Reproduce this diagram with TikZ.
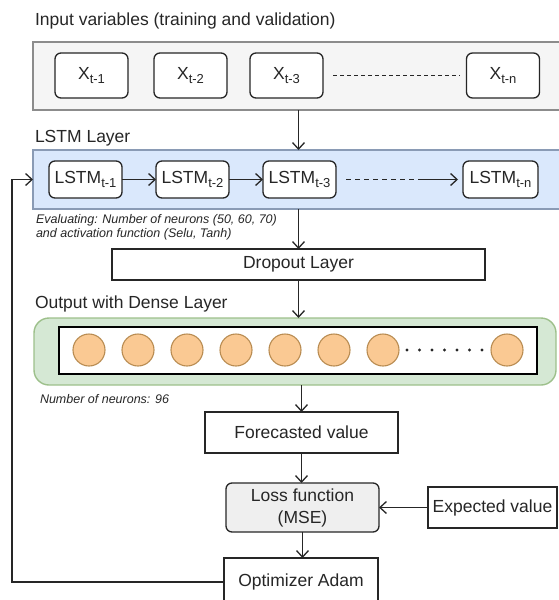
\documentclass[tikz,border=0pt]{standalone}
\usepackage{fontspec}
\setmainfont{Liberation Sans}
\usetikzlibrary{arrows.meta}

\definecolor{ink}{HTML}{262626}
\definecolor{panelgray}{HTML}{F5F5F5}
\definecolor{panelgrayline}{HTML}{8C8C8C}
\definecolor{lstmfill}{HTML}{DAE8FC}
\definecolor{lstmline}{HTML}{8A9BB5}
\definecolor{densefill}{HTML}{D5E8D4}
\definecolor{denseline}{HTML}{9DC08B}
\definecolor{neuronfill}{HTML}{FAC993}
\definecolor{neuronline}{HTML}{B98C52}
\definecolor{lossfill}{HTML}{EFEFEF}

% subscript index such as t-1
\newcommand\idx[1]{\raisebox{-4.5pt}{\fontsize{13}{13}\selectfont #1}}

\begin{document}
\begin{tikzpicture}[x=1pt,y=-1pt,
  every node/.style={font=\fontsize{17.5}{22}\selectfont, text=ink, inner sep=0pt, outer sep=0pt},
  title/.style={anchor=base west},
  note/.style={anchor=base west, font=\fontsize{12.5}{14}\selectfont\itshape},
  panel/.style={draw, line width=1.4pt, rectangle, anchor=north west},
  cell/.style={draw=ink, line width=1.3pt, rounded corners=6pt, fill=white, minimum width=73pt},
  plainbox/.style={draw=ink, line width=1.3pt, fill=white, align=center},
  neuron/.style={circle, draw=neuronline, fill=neuronfill, line width=1.1pt, minimum size=32pt},
  arr/.style={draw=ink, line width=1.3pt, -{Straight Barb[length=6.5pt,width=12pt]}},
  link/.style={draw=ink, line width=1.3pt}]

\useasboundingbox (0,0) rectangle (558,600);

% ---- input variables ----
\node[title] (tin) at (35,25) {Input variables (training and validation)};
\node[panel, fill=panelgray, draw=panelgrayline, minimum width=532pt, minimum height=68pt] (inbox) at (33,42) {};
\node[cell, minimum height=45pt] (x1) at (91.5,75.5) {X\idx{t-1}};
\node[cell, minimum height=45pt] (x2) at (190.5,75.5) {X\idx{t-2}};
\node[cell, minimum height=45pt] (x3) at (286.5,75.5) {X\idx{t-3}};
\node[cell, minimum height=45pt] (xn) at (503,75.5) {X\idx{t-n}};
\draw[link, dash pattern=on 4pt off 3pt] ([xshift=10pt]x3.east) -- ([xshift=-7pt]xn.west);

% ---- LSTM layer ----
\node[title] (tlstm) at (35,142) {LSTM Layer};
\node[panel, fill=lstmfill, draw=lstmline, minimum width=532pt, minimum height=59pt] (lstmbox) at (33,150) {};
\node[cell, minimum height=37pt] (l1) at (85.5,179.5) {LSTM\idx{t-1}};
\node[cell, minimum height=37pt] (l2) at (192.5,179.5) {LSTM\idx{t-2}};
\node[cell, minimum height=37pt] (l3) at (299.5,179.5) {LSTM\idx{t-3}};
\node[cell, minimum height=37pt, minimum width=75pt] (ln) at (500.5,179.5) {LSTM\idx{t-n}};
\coordinate (dashend) at (419,179.5);
\draw[arr] (l1) -- (l2);
\draw[arr] (l2) -- (l3);
\draw[link, dash pattern=on 5pt off 4pt] ([xshift=10pt]l3.east) -- (dashend);
\draw[arr] (dashend) -- ([xshift=-5pt]ln.west);
\node[note] (ev1) at (36,223) {Evaluating: Number of neurons (50, 60, 70)};
\node[note] (ev2) at (36,237) {and activation function (Selu, Tanh)};

% ---- dropout ----
\node[plainbox, minimum width=373pt, minimum height=31pt] (drop) at (298.5,264.5) {Dropout Layer};

% ---- dense output ----
\node[title] (tdense) at (35,308) {Output with Dense Layer};
\node[panel, fill=densefill, draw=denseline, rounded corners=15pt, minimum width=522pt, minimum height=67pt] (dense) at (34,318) {};
\node[draw=black, fill=white, line width=1.6pt, minimum width=478pt, minimum height=47pt] (row) at (298,350.5) {};
\foreach \i in {0,...,6} {
  \node[neuron] (n\i) at (89+49*\i,350) {};
}
\node[neuron] (nlast) at (507,350) {};
\foreach \i in {0,...,6} {
  \fill[ink] (407+12.5*\i,350) circle (1.7pt);
}
\node[note] (nn) at (40,403) {Number of neurons: 96};

% ---- training loop ----
\node[plainbox, minimum width=193pt, minimum height=41pt] (fc) at (301.5,432.5) {Forecasted value};
\node[plainbox, fill=lossfill, rounded corners=6pt, minimum width=153pt, minimum height=49pt] (loss) at (302.5,507.5) {Loss function\\(MSE)};
\node[plainbox, minimum width=129pt, minimum height=41pt] (exp) at (492.5,507.5) {Expected value};
\node[plainbox, minimum width=154pt, minimum height=48pt] (opt) at (301,582) {Optimizer Adam};

% ---- connectors ----
\draw[arr] (inbox.south -| drop.north) -- (lstmbox.north -| drop.north);
\draw[arr] (lstmbox.south -| drop.north) -- (drop.north);
\draw[arr] (drop.south) -- (dense.north -| drop.south);
\draw[arr] (dense.south -| fc.north) -- (fc.north);
\draw[arr] (fc.south) -- (fc.south |- loss.north);
\draw[arr] (loss.south) -- (loss.south |- opt.north);
\draw[arr] (exp.west) -- (loss.east);
\coordinate (fb) at (12,179.5);
\draw[arr] (opt.west) -| (fb) -- (fb -| lstmbox.west);

\end{tikzpicture}
\end{document}
